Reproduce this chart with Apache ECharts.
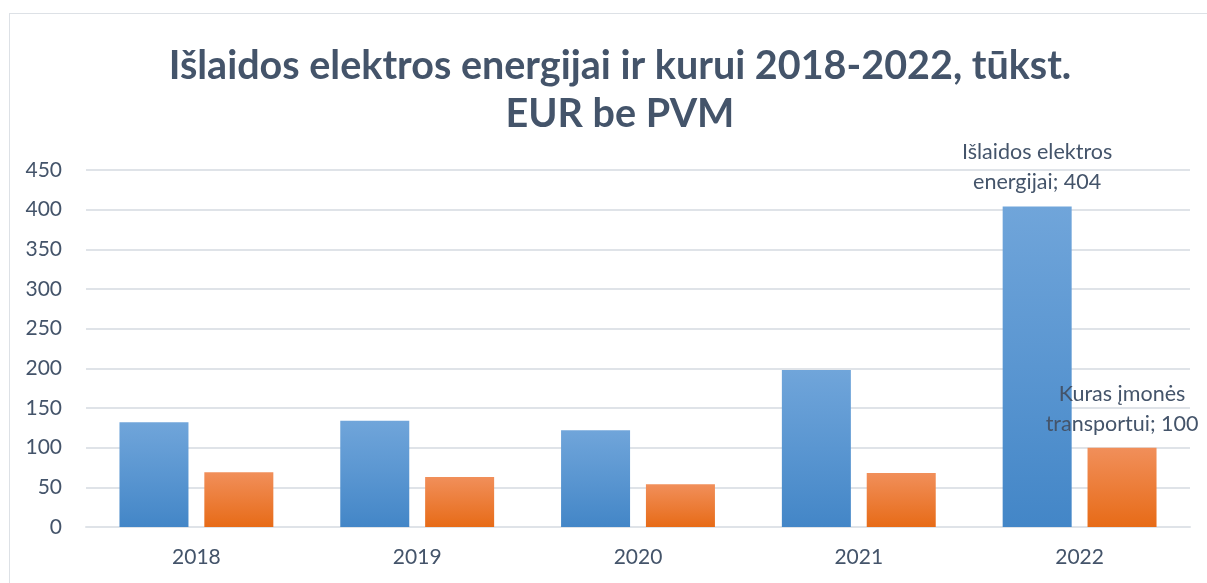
<!DOCTYPE html>
<html>
<head>
<meta charset="utf-8">
<script src="https://cdn.jsdelivr.net/npm/echarts@6/dist/echarts.min.js"></script>
<style>
  html, body { margin: 0; padding: 0; background: #fff; }
  #chart { width: 1207px; height: 583px; }
  .frame { position: absolute; left: 9px; top: 13px; width: 1210px; height: 580px; border: 1px solid #dde1e6; box-sizing: border-box; pointer-events: none; }
</style>
</head>
<body>
<div class="frame"></div>
<div id="chart"></div>
<script>
// duomenys
const years = ['2018', '2019', '2020', '2021', '2022'];
const elektra = [132, 134, 122, 198, 404];
const kuras = [69, 63, 54, 68, 100];
const seriesNames = ['Išlaidos elektros energijai', 'Kuras įmonės transportui'];
const yTicks = [0, 450, 50]; // min, max, interval

const textColor = '#44546A';
const font = 'Lato, "Open Sans", sans-serif';

const grad = (top, bottom) => new echarts.graphic.LinearGradient(0, 0, 0, 1, [
  { offset: 0, color: top },
  { offset: 0.5, color: echarts.color.lerp(0.5, [top, bottom]) },
  { offset: 1, color: bottom }
]);

const lastLabel = (idx, text) => ({
  show: true,
  position: 'top',
  distance: 9,
  formatter: p => p.dataIndex === idx ? text : '',
  color: textColor,
  fontFamily: font,
  fontSize: 21.5,
  lineHeight: 30,
  align: 'center'
});

let myChart = echarts.init(document.getElementById('chart'));
myChart.setOption({
  animation: false,
  title: {
    text: 'Išlaidos elektros energijai ir kurui 2018-2022, tūkst.\nEUR be PVM',
    left: 615,
    top: 37,
    textAlign: 'center',
    textStyle: {
      color: textColor,
      fontFamily: font,
      fontWeight: 'bold',
      fontSize: 39.5,
      lineHeight: 48
    }
  },
  grid: { left: 86, right: 17, top: 170, bottom: 56 },
  xAxis: {
    type: 'category',
    data: years,
    axisLine: { lineStyle: { color: '#dfe3e8', width: 2 } },
    axisTick: { show: false },
    axisLabel: { color: textColor, fontFamily: font, fontSize: 21, margin: 20 }
  },
  yAxis: {
    type: 'value',
    min: yTicks[0],
    max: yTicks[1],
    interval: yTicks[2],
    axisLine: { show: false },
    axisTick: { show: false },
    splitLine: { lineStyle: { color: '#dfe3e8', width: 2 } },
    axisLabel: { color: textColor, fontFamily: font, fontSize: 21, margin: 24 }
  },
  series: [
    {
      name: seriesNames[0],
      type: 'bar',
      data: elektra,
      barWidth: 69,
      barGap: '23%',
      itemStyle: { color: grad('#70a5da', '#4386c7') },
      label: lastLabel(elektra.length - 1, 'Išlaidos elektros\nenergijai; ' + elektra[elektra.length - 1])
    },
    {
      name: seriesNames[1],
      type: 'bar',
      data: kuras,
      barWidth: 69,
      itemStyle: { color: grad('#f18f5a', '#e76b17') },
      label: lastLabel(kuras.length - 1, 'Kuras įmonės\ntransportui; ' + kuras[kuras.length - 1])
    }
  ]
});
</script>
</body>
</html>
